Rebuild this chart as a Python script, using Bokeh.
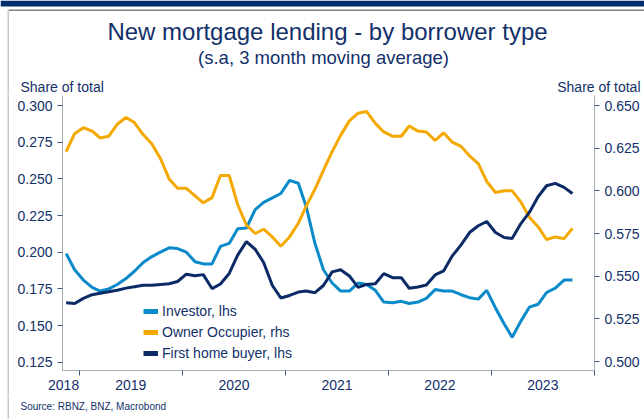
import pandas as pd
from bokeh.plotting import figure
from bokeh.layouts import column, row
from bokeh.models import (Range1d, LinearAxis, FixedTicker, NumeralTickFormatter,
                          CustomJSTickFormatter, Legend, LegendItem, Label, BoxAnnotation)
from bokeh.embed import file_html
from bokeh.resources import INLINE

# ---------------- data (monthly, 3m moving average, share of total) ----------------
months = pd.date_range("2018-11-01", periods=60, freq="MS") + pd.Timedelta(days=14)

investor = [0.199, 0.188, 0.181, 0.176, 0.1735, 0.175, 0.178, 0.182, 0.187, 0.193,
            0.197, 0.200, 0.203, 0.2025, 0.200, 0.1935, 0.192, 0.192, 0.204, 0.206,
            0.216, 0.2165, 0.229, 0.234, 0.237, 0.240, 0.249, 0.247, 0.231, 0.206,
            0.188, 0.179, 0.1735, 0.1735, 0.179, 0.178, 0.174, 0.166, 0.1655, 0.1665,
            0.165, 0.166, 0.1685, 0.1745, 0.1735, 0.1735, 0.171, 0.169, 0.168, 0.174,
            0.162, 0.151, 0.142, 0.153, 0.1625, 0.1645, 0.1725, 0.1755, 0.181, 0.181]

owner_occupier = [0.623, 0.6335, 0.637, 0.635, 0.631, 0.632, 0.639, 0.643, 0.640, 0.633,
                  0.6275, 0.619, 0.607, 0.6015, 0.6015, 0.597, 0.593, 0.596, 0.609, 0.609,
                  0.592, 0.580, 0.575, 0.5775, 0.573, 0.5675, 0.573, 0.581, 0.591, 0.601,
                  0.612, 0.623, 0.6325, 0.641, 0.6455, 0.6465, 0.6395, 0.6345, 0.632, 0.632,
                  0.638, 0.635, 0.6345, 0.6295, 0.634, 0.6285, 0.626, 0.6205, 0.616, 0.6055,
                  0.599, 0.600, 0.600, 0.5935, 0.5845, 0.579, 0.5715, 0.573, 0.572, 0.578]

first_home_buyer = [0.1655, 0.165, 0.1685, 0.171, 0.172, 0.173, 0.174, 0.1755, 0.1765, 0.1775,
                    0.1775, 0.178, 0.1785, 0.180, 0.185, 0.184, 0.1847, 0.1752, 0.1783, 0.1855,
                    0.198, 0.2072, 0.202, 0.193, 0.1773, 0.1688, 0.1705, 0.1728, 0.1735, 0.1724,
                    0.1773, 0.1866, 0.188, 0.1838, 0.176, 0.178, 0.1785, 0.1854, 0.1826, 0.1826,
                    0.1754, 0.1763, 0.1776, 0.1845, 0.1872, 0.1975, 0.205, 0.2134, 0.218, 0.2209,
                    0.2134, 0.210, 0.2093, 0.2195, 0.2271, 0.2378, 0.2453, 0.2469, 0.2442, 0.240]

left_ticks = [0.125, 0.150, 0.175, 0.200, 0.225, 0.250, 0.275, 0.300]
right_ticks = [0.500, 0.525, 0.550, 0.575, 0.600, 0.625, 0.650]
year_labels = ["2018", "2019", "2020", "2021", "2022", "2023"]

TITLE = "New mortgage lending - by borrower type"
SUBTITLE = "(s.a, 3 month moving average)"
AXIS_TITLE = "Share of total"
SOURCE = "Source: RBNZ, BNZ, Macrobond"

# ---------------- styling ----------------
NAVY = "#12306a"
C_INV = "#0b8ac9"
C_OO = "#f5a800"
C_FHB = "#0c2b66"
AXIS_GREY = "#a9adb6"
TICK_COL = "#41557c"
FRAME_GREY = "#c8c8c8"
FONT = "Liberation Sans"
W = 644
STRIP_W = 9
HDR_H, MAIN_H, FTR_H = 94, 302, 23
FL, FR, FT, FB = 62, 594, 95, 370   # frame edges on the page


def no_align(f):
    try:
        f.frame_align = False
    except AttributeError:
        pass


def blank(width, height):
    f = figure(width=width, height=height, output_backend="svg", toolbar_location=None,
               x_range=Range1d(0, width), y_range=Range1d(0, height), title=None,
               x_axis_location=None, y_axis_location=None, min_border=0)
    f.outline_line_color = None
    f.grid.visible = False
    no_align(f)
    return f


def text(f, height, top, s, px, py, size, align="left"):
    f.add_layout(Label(x=px, y=top + height - py, text=s, text_font=FONT,
                       text_font_size=f"{size}px", text_color=NAVY,
                       text_align=align, text_baseline="middle"))


def box(f, height, top, x0, x1, y0, y1, color):
    f.add_layout(BoxAnnotation(left=x0, right=x1, top=top + height - y0,
                               bottom=top + height - y1, fill_color=color,
                               fill_alpha=1, line_color=None))


# ---------------- header ----------------
hdr = blank(W, HDR_H)
box(hdr, HDR_H, 0, 0, W, 0, 6, "#002d6e")
box(hdr, HDR_H, 0, 8, W, 9, 10.5, "#808080")
box(hdr, HDR_H, 0, 7, 8.5, 9, HDR_H, FRAME_GREY)
text(hdr, HDR_H, 0, TITLE, 327, 31, 24, "center")
text(hdr, HDR_H, 0, SUBTITLE, 323, 57, 18.5, "center")
text(hdr, HDR_H, 0, AXIS_TITLE, 20, 86, 14)
text(hdr, HDR_H, 0, AXIS_TITLE, 640, 86, 14, "right")

# left frame strip beside the chart
strip = blank(STRIP_W, MAIN_H)
box(strip, MAIN_H, HDR_H, 7, 8.5, HDR_H, HDR_H + MAIN_H, FRAME_GREY)

# ---------------- main chart ----------------
def ms(s):
    return pd.Timestamp(s).value // 10**6

label_pos = [ms("2018-11-06")] + [ms(f"{y}-07-02") for y in range(2019, 2024)]
year_bounds = [ms(f"{y}-01-01") for y in range(2019, 2025)]

p = figure(width=W - STRIP_W, height=MAIN_H, output_backend="svg", toolbar_location=None,
           x_axis_type="datetime", title=None,
           x_range=Range1d(pd.Timestamp("2018-11-02"), pd.Timestamp("2024-01-01")),
           y_range=Range1d(0.11934, 0.30682),
           min_border_left=FL - STRIP_W, min_border_right=W - FR, min_border_top=FT - HDR_H,
           min_border_bottom=HDR_H + MAIN_H - FB)
p.outline_line_color = None
p.xgrid.grid_line_color = None
p.ygrid.grid_line_color = None
no_align(p)

p.extra_y_ranges = {"right": Range1d(0.49473, 0.65586),
                    "legend_only": Range1d(10, 11)}

r_inv = p.line(months, investor, color=C_INV, line_width=3)
r_oo = p.line(months, owner_occupier, color=C_OO, line_width=3, y_range_name="right")
r_fhb = p.line(months, first_home_buyer, color=C_FHB, line_width=3)

# thicker swatches for the legend (drawn on an off-screen range, so invisible in the plot)
l_inv = p.line(months, investor, color=C_INV, line_width=5, y_range_name="legend_only")
l_oo = p.line(months, owner_occupier, color=C_OO, line_width=5, y_range_name="legend_only")
l_fhb = p.line(months, first_home_buyer, color=C_FHB, line_width=5, y_range_name="legend_only")

xa = p.xaxis[0]
xa.ticker = FixedTicker(ticks=label_pos, minor_ticks=year_bounds)
xa.formatter = CustomJSTickFormatter(
    args=dict(labels=year_labels),
    code="const y = new Date(tick).getUTCFullYear(); return labels[y - 2018];")
xa.axis_line_color = AXIS_GREY
xa.major_tick_line_color = None
xa.major_tick_out = 5
xa.major_tick_in = 0
xa.minor_tick_out = 5
xa.minor_tick_in = 0
xa.minor_tick_line_color = TICK_COL
xa.major_label_standoff = 4
xa.major_label_text_font = FONT
xa.major_label_text_font_size = "14px"
xa.major_label_text_color = NAVY


def style_y(ax, ticks):
    ax.ticker = FixedTicker(ticks=ticks)
    ax.formatter = NumeralTickFormatter(format="0.000")
    ax.axis_line_color = AXIS_GREY
    ax.major_tick_line_color = TICK_COL
    ax.major_tick_out = 5
    ax.major_tick_in = 0
    ax.minor_tick_line_color = None
    ax.major_label_standoff = 5
    ax.major_label_text_font = FONT
    ax.major_label_text_font_size = "14px"
    ax.major_label_text_color = NAVY


style_y(p.yaxis[0], left_ticks)
ra = LinearAxis(y_range_name="right")
style_y(ra, right_ticks)
p.add_layout(ra, "right")

legend = Legend(items=[LegendItem(label="Investor, lhs", renderers=[l_inv]),
                       LegendItem(label="Owner Occupier, rhs", renderers=[l_oo]),
                       LegendItem(label="First home buyer, lhs", renderers=[l_fhb])],
                location=(81, 7), orientation="vertical")
legend.padding = 0
legend.margin = 0
legend.spacing = 1
legend.label_height = 20
legend.glyph_width = 15
legend.glyph_height = 20
legend.label_standoff = 4
legend.border_line_color = None
legend.background_fill_alpha = 0
legend.label_text_font = FONT
legend.label_text_font_size = "14px"
legend.label_text_color = NAVY
p.add_layout(legend)

# ---------------- footer ----------------
ftr = blank(W, FTR_H)
box(ftr, FTR_H, HDR_H + MAIN_H, 7, 8.5, HDR_H + MAIN_H, HDR_H + MAIN_H + FTR_H, FRAME_GREY)
text(ftr, FTR_H, HDR_H + MAIN_H, SOURCE, 20, 406, 10)

layout = column(hdr, row(strip, p, spacing=0), ftr, spacing=0)
open("out.html", "w").write(file_html(layout, INLINE))
